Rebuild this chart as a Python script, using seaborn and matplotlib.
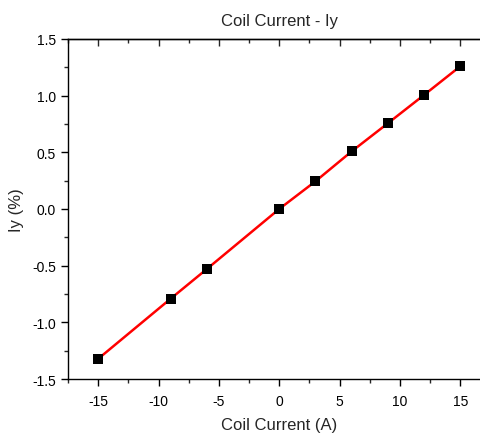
import matplotlib
matplotlib.use("Agg")
import matplotlib.pyplot as plt
import seaborn as sns
import pandas as pd
from matplotlib.ticker import MultipleLocator

sns.set_style("ticks")
plt.rcParams['font.family'] = ['Liberation Sans', 'DejaVu Sans']
plt.rcParams['axes.unicode_minus'] = False

current = [-15, -9, -6, 0, 3, 6, 9, 12, 15]
iy = [-1.322, -0.792, -0.530, 0.0, 0.244, 0.508, 0.756, 1.006, 1.259]
df = pd.DataFrame({"Coil Current (A)": current, "Iy (%)": iy})

fig = plt.figure(figsize=(4.81, 4.35), dpi=100)
ax = fig.add_axes([68/481, 1-380/435, 422.4/481, 340/435])

sns.lineplot(data=df, x="Coil Current (A)", y="Iy (%)", ax=ax, color="red", linewidth=1.8, zorder=2)
sns.scatterplot(data=df, x="Coil Current (A)", y="Iy (%)", ax=ax, marker="s", color="black",
                s=42, edgecolor="black", linewidth=0, zorder=3)

ax.set_xlim(-17.5, 17.5)
ax.set_ylim(-1.5, 1.5)
ax.xaxis.set_major_locator(MultipleLocator(5))
ax.xaxis.set_minor_locator(MultipleLocator(2.5))
ax.yaxis.set_major_locator(MultipleLocator(0.5))
ax.yaxis.set_minor_locator(MultipleLocator(0.25))
ax.yaxis.set_major_formatter(matplotlib.ticker.FormatStrFormatter('%.1f'))

for s in ax.spines.values():
    s.set_linewidth(1.0)
    s.set_color("black")
ax.spines['right'].set_visible(False)

ax.tick_params(axis='both', which='major', length=5, width=1, labelsize=10, colors='black', direction='out')
ax.tick_params(axis='both', which='minor', length=3, width=1, direction='out')
ax.tick_params(axis='x', which='major', pad=6)
ax.tick_params(axis='x', top=False, which='both')

sec = ax.secondary_xaxis('top')
sec.xaxis.set_major_locator(MultipleLocator(5))
sec.xaxis.set_minor_locator(MultipleLocator(2.5))
sec.tick_params(which='major', direction='in', length=5, width=1, labeltop=False)
sec.tick_params(which='minor', direction='in', length=3, width=1)
sec.spines['top'].set_linewidth(1.0)

ax.set_xlabel("Coil Current (A)", fontsize=12, labelpad=6)
ax.set_ylabel("Iy (%)", fontsize=12, labelpad=6)
ax.set_title("Coil Current - Iy", fontsize=12, pad=10, x=(280-68)/422.4)

fig.savefig("out.png", dpi=100)
